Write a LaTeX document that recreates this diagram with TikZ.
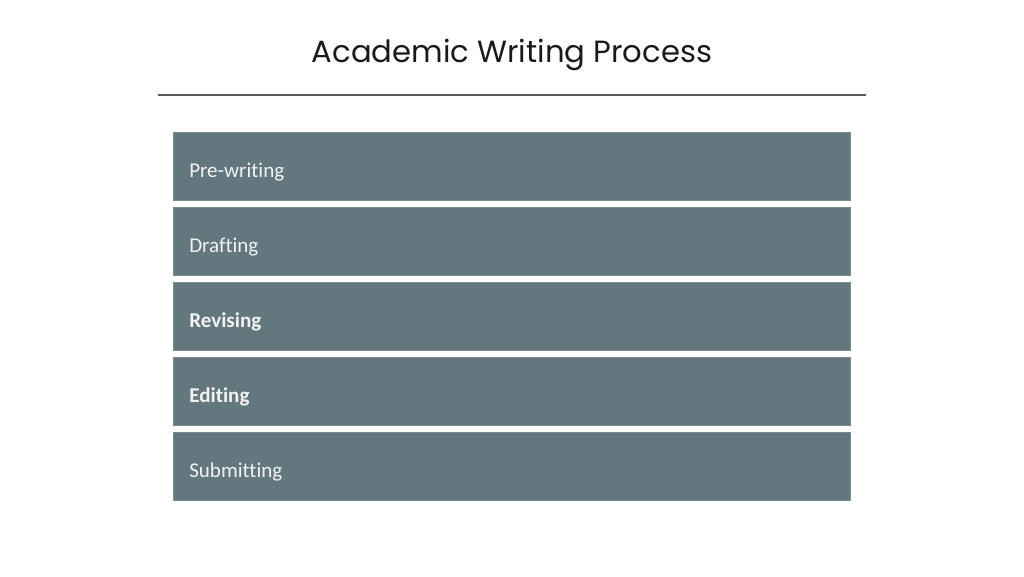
\documentclass[tikz,border=0pt]{standalone}
\usepackage{fontspec}
\setmainfont{Carlito}[RawFeature=-liga]
\newfontfamily\titlefont{Poppins}
\definecolor{boxfill}{HTML}{63777E}
\definecolor{boxtext}{HTML}{F2F2F2}
\definecolor{titlecol}{HTML}{1A1A1A}
\definecolor{rulecol}{HTML}{595959}
\begin{document}
\begin{tikzpicture}[x=0.75pt,y=-0.75pt,
  stage/.style={fill=boxfill, draw=boxfill!85!white, line width=0.5pt, minimum width=677*0.75pt, minimum height=68*0.75pt, anchor=north west, inner sep=0pt},
  stagelabel/.style={text=boxtext, font=\fontsize{15.8pt}{19pt}\selectfont, anchor=west, inner sep=0pt}]
\useasboundingbox (0,0) rectangle (1024,576);
\node[font=\titlefont\fontsize{23pt}{28pt}\selectfont, text=titlecol] (title) at (512,55) {Academic Writing Process};
\coordinate (rl) at (158,95);
\coordinate (rr) at (866,95);
\draw[rulecol, line width=0.8pt] (rl) -- (rr);
\node[stage] (s1) at (173,132) {};
\node[stage] (s2) at (173,207) {};
\node[stage] (s3) at (173,282) {};
\node[stage] (s4) at (173,357) {};
\node[stage] (s5) at (173,432) {};
\node[stagelabel] (l1) at ([xshift=16*0.75pt,yshift=-5.5*0.75pt]s1.west) {Pre-writing};
\node[stagelabel] (l2) at ([xshift=16*0.75pt,yshift=-5.5*0.75pt]s2.west) {Drafting};
\node[stagelabel] (l3) at ([xshift=16*0.75pt,yshift=-5.5*0.75pt]s3.west) {\bfseries Revising};
\node[stagelabel] (l4) at ([xshift=16*0.75pt,yshift=-5.5*0.75pt]s4.west) {\bfseries Editing};
\node[stagelabel] (l5) at ([xshift=16*0.75pt,yshift=-5.5*0.75pt]s5.west) {Submitting};
\end{tikzpicture}
\end{document}
